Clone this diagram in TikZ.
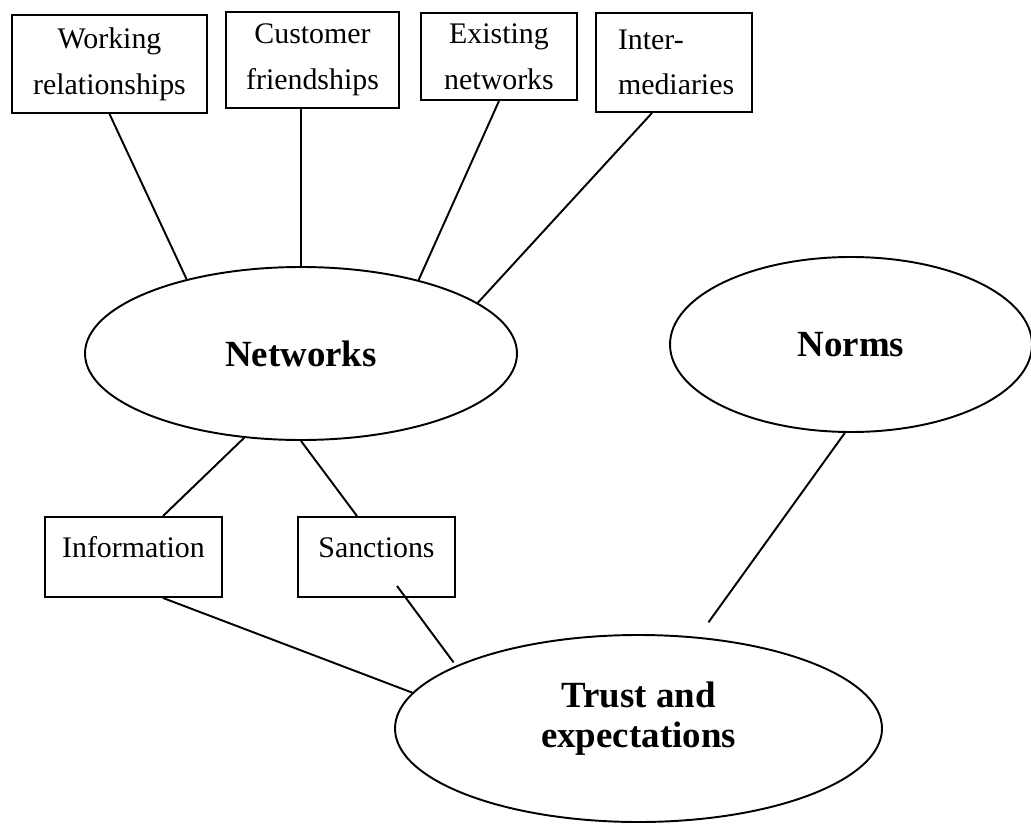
\documentclass[tikz,border=0pt]{standalone}
\usepackage{fontspec}
\setmainfont{Liberation Serif}
\usetikzlibrary{shapes.geometric,calc}

\begin{document}
\begin{tikzpicture}[line width=1.1pt,
		box/.style={draw, rectangle, inner sep=0pt, align=center,
				font=\fontsize{17}{26}\selectfont},
		bubble/.style={draw, ellipse, inner sep=0pt, align=center,
				font=\fontsize{21}{23}\selectfont\bfseries}]
	\useasboundingbox (0,0) rectangle (20.62,-16.46);
	% sources of networks
	\node[box, minimum width=3.9cm, minimum height=1.96cm] (work) at (2.19,-1.28) {Working\\relationships};
	\node[box, minimum width=3.46cm, minimum height=1.92cm] (cust) at (6.25,-1.2) {Customer\\friendships};
	\node[box, minimum width=3.12cm, minimum height=1.74cm] (exist) at (9.98,-1.13) {Existing\\networks};
	\node[box, minimum width=3.12cm, minimum height=1.98cm, text width=2.24cm, align=left] (inter) at (13.48,-1.25) {Inter-\\mediaries};

	\node[bubble, minimum width=8.64cm, minimum height=3.46cm] (net) at (6.02,-7.07) {Networks};
	\node[bubble, minimum width=7.24cm, minimum height=3.5cm] (norms) at (17.02,-6.89) {Norms};
	\node[bubble, minimum width=9.74cm, minimum height=3.74cm, text depth=0.56cm] (trust) at (12.77,-14.57) {Trust and\\expectations};

	\node[box, minimum width=3.54cm, minimum height=1.6cm, text height=0.45cm, text depth=0.45cm] (info) at (2.67,-11.14) {Information};
	\node[box, minimum width=3.14cm, minimum height=1.6cm, text height=0.45cm, text depth=0.45cm] (sanc) at (7.53,-11.14) {Sanctions};

	\draw (work.south) -- (net.147);
	\draw (net.north |- cust.south) -- (net.north);
	\draw (exist.south) -- (net.32);
	\draw ($(inter.south)+(-0.44,0)$) -- (net.16);
	\draw (net.236) -- ($(info.north)+(0.59,0)$);
	\draw (net.south) -- ($(sanc.north)+(-0.39,0)$);
	\draw ($(info.south)+(0.59,0)$) -- (trust.171);
	\draw[shorten >=0.08cm] ($(sanc.south)+(0.41,0.24)$) -- (trust.161);
	\draw[shorten >=0.36cm] (norms.266) -- (trust.57);
\end{tikzpicture}
\end{document}
